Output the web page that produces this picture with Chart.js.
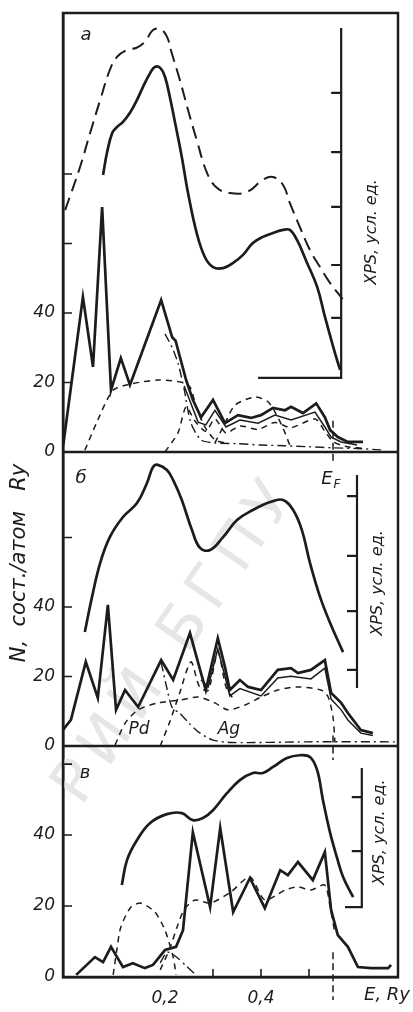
<!DOCTYPE html>
<html>
<head>
<meta charset="utf-8">
<script src="https://cdn.jsdelivr.net/npm/chart.js@4.4.1/dist/chart.umd.min.js"></script>
<style>
  html, body { margin: 0; padding: 0; background: #fff; }
  #plot { display: block; }
</style>
</head>
<body>
<canvas id="plot" width="413" height="1012"></canvas>
<script>
// energy axis, Ry
var xMin = -0.0125;
var xMax = 0.6854;
var xLabelled = [0.2, 0.4];
var xInnerTicks = [0.3, 0.4, 0.5];
var fermiE = 0.55;

// N, states/atom Ry  (panel а, б, в)
var aMax = 126.3, bMax = 84.6, cMax = 65.1;
var aTicks = [0, 20, 40, 60, 80];
var bTicks = [0, 20, 40, 60];
var cTicks = [0, 20, 40, 60];
var yLabelled = [0, 20, 40];

// ---- panel а ----
var aXpsDashE = [-0.008, 0.023, 0.044, 0.065, 0.085, 0.1, 0.121, 0.141, 0.158, 0.175, 0.19, 0.204, 0.214, 0.231, 0.248, 0.266, 0.2875, 0.308, 0.335, 0.371, 0.404, 0.425, 0.446, 0.46, 0.481, 0.502, 0.523, 0.544, 0.57];
var aXpsDashN = [69.6, 82, 91.8, 101.3, 109.9, 113.7, 115.7, 116.3, 118, 121.4, 121.7, 119.5, 114.8, 107, 98.4, 89.8, 80.3, 76, 74.5, 74.8, 78.3, 79.1, 76.8, 71.7, 64.7, 58.1, 53.2, 48.6, 44];
var aXpsE = [0.071, 0.079, 0.09, 0.1, 0.1125, 0.127, 0.1417, 0.154, 0.169, 0.179, 0.19, 0.2, 0.21, 0.221, 0.235, 0.248, 0.266, 0.283, 0.3, 0.321, 0.342, 0.3625, 0.383, 0.404, 0.425, 0.446, 0.46, 0.475, 0.496, 0.517, 0.533, 0.554, 0.565];
var aXpsN = [79.7, 86, 91.8, 93.5, 95, 97.6, 101.3, 105, 109, 110.8, 110.5, 107.9, 102.2, 94.7, 84.9, 74.5, 63, 56.1, 53.2, 52.9, 54.4, 56.7, 60.1, 61.9, 63, 63.9, 63.9, 61, 54.4, 47.5, 39, 28.5, 23.6];
var aTotE = [-0.012, 0.029, 0.05, 0.069, 0.0875, 0.108, 0.127, 0.192, 0.215, 0.222, 0.244, 0.258, 0.275, 0.3, 0.325, 0.352, 0.379, 0.4, 0.425, 0.45, 0.4625, 0.4875, 0.515, 0.533, 0.544, 0.56, 0.581, 0.6125];
var aTotN = [2, 44.6, 24.5, 70.5, 17.8, 27, 19.3, 43.7, 33, 32, 20.7, 15, 10, 15, 8.3, 10.6, 9.8, 10.6, 12.7, 12, 13, 11.2, 14, 10, 6.3, 4.3, 2.9, 2.9];
var aThinE = [0.24, 0.269, 0.285, 0.304, 0.327, 0.356, 0.394, 0.429, 0.4625, 0.5125, 0.533, 0.546, 0.567, 0.6];
var aThinN = [19, 8.6, 7.8, 12, 7.2, 9.2, 8.3, 10.6, 9.2, 11.5, 7.2, 4.3, 2.9, 2];
var aRiseE = [0.2, 0.227, 0.244, 0.262, 0.285, 0.304, 0.327, 0.356, 0.394, 0.429, 0.4625, 0.5125, 0.533, 0.55, 0.58, 0.62];
var aRiseN = [0, 5.5, 13, 9, 6, 9.5, 5.5, 7.5, 6.5, 8.5, 7, 9.5, 6, 3, 1.5, 1];
var aLowE = [0.033, 0.06, 0.092, 0.13, 0.185, 0.233, 0.252, 0.265, 0.283, 0.304, 0.325];
var aLowN = [0.5, 9.2, 17.8, 19.6, 20.7, 20.1, 18.7, 13, 7.2, 3.5, 2.6];
var aDotE = [0.2, 0.215, 0.227, 0.24, 0.254, 0.275, 0.304, 0.35, 0.4, 0.45, 0.5, 0.55, 0.6, 0.65];
var aDotN = [34, 30, 25.6, 18, 8.3, 3.5, 2.6, 2.4, 2, 1.8, 1.5, 1.2, 1, 0.6];
var aHumpE = [0.304, 0.325, 0.346, 0.3875, 0.415, 0.435, 0.45, 0.4625];
var aHumpN = [2.6, 8.3, 13.5, 15.8, 14.4, 10, 5.5, 1];

// ---- panel б ----
var bXpsE = [0.033, 0.048, 0.065, 0.085, 0.1125, 0.1417, 0.1625, 0.175, 0.185, 0.204, 0.217, 0.235, 0.256, 0.273, 0.294, 0.321, 0.35, 0.383, 0.419, 0.446, 0.467, 0.485, 0.502, 0.523, 0.544, 0.571];
var bXpsN = [32.8, 42.9, 52.7, 60.1, 65.9, 69.9, 75.7, 80.3, 80.9, 79.4, 76.5, 70.8, 62.2, 57, 56.4, 60.1, 65, 67.9, 70.2, 70.8, 67.9, 62.2, 52.7, 42.9, 35.4, 27];
var bTotE = [-0.0125, 0.004, 0.035, 0.06, 0.081, 0.098, 0.1167, 0.144, 0.192, 0.217, 0.252, 0.275, 0.285, 0.31, 0.325, 0.335, 0.356, 0.373, 0.4, 0.435, 0.4625, 0.477, 0.504, 0.533, 0.546, 0.567, 0.581, 0.608, 0.633];
var bTotN = [4.6, 7.5, 24.2, 13.8, 40.6, 10.4, 16.1, 11.2, 24.7, 19, 32.5, 21, 16.1, 31, 22.7, 16.1, 19, 17, 16.1, 21.9, 22.4, 21, 21.9, 24.7, 15.3, 12.4, 9.5, 4.6, 3.7];
var bThinE = [0.275, 0.29, 0.31, 0.325, 0.335, 0.356, 0.4, 0.435, 0.4625, 0.504, 0.533, 0.546, 0.567, 0.581, 0.608, 0.633];
var bThinN = [19, 17, 28, 20, 14.4, 16.5, 14.4, 19.6, 20.1, 19.3, 22.4, 13.5, 10.4, 7.5, 3.7, 3];
var bPdE = [0.096, 0.117, 0.144, 0.185, 0.231, 0.269, 0.304, 0.331, 0.367, 0.4, 0.435, 0.477, 0.525, 0.54, 0.55, 0.554];
var bPdN = [0.3, 6.6, 10.4, 12.4, 13.2, 14.1, 12.4, 10.4, 11.8, 14.1, 16.1, 17, 16.1, 14.1, 8.3, 1];
var bRiseE = [0.19, 0.21, 0.23, 0.254, 0.272, 0.29, 0.31, 0.327, 0.34];
var bRiseN = [0, 7, 15, 24.2, 17, 16, 27, 17, 14];
var bAgE = [0.192, 0.205, 0.215, 0.23, 0.25, 0.27, 0.3, 0.34, 0.5, 0.68];
var bAgN = [24, 16, 11, 9.5, 6.6, 4, 1.7, 1, 1.2, 1.2];

// ---- panel в ----
var cXpsE = [0.11, 0.121, 0.1417, 0.169, 0.204, 0.235, 0.258, 0.279, 0.3, 0.329, 0.356, 0.383, 0.404, 0.425, 0.454, 0.481, 0.502, 0.517, 0.529, 0.544, 0.558, 0.571, 0.592];
var cXpsN = [25.9, 33, 38.6, 43.4, 45.9, 46.2, 44.2, 44.8, 47, 51.8, 55.5, 57.5, 57.5, 59.2, 61.7, 62.5, 62, 58.3, 49.9, 40.6, 33.8, 28.2, 22.5];
var cTotE = [0.015, 0.054, 0.071, 0.0875, 0.1125, 0.133, 0.158, 0.175, 0.2, 0.223, 0.2375, 0.258, 0.294, 0.315, 0.342, 0.377, 0.408, 0.44, 0.456, 0.477, 0.508, 0.533, 0.546, 0.56, 0.581, 0.602, 0.629, 0.665, 0.671];
var cTotN = [0.6, 5.6, 4.2, 8.5, 2.8, 3.9, 2.5, 3.4, 7.6, 8.5, 13.2, 40.8, 19.7, 42, 18.3, 27.9, 19.4, 30.1, 28.7, 32.4, 27.3, 35.2, 18.9, 11.8, 8.5, 2.8, 2.5, 2.5, 3.4];
var cPdE = [0.092, 0.1, 0.108, 0.129, 0.15, 0.179, 0.2, 0.217, 0.223];
var cPdN = [0.6, 8, 14.1, 19.7, 20.8, 18.3, 13.2, 5.6, 0.6];
var cRiseE = [0.19, 0.21, 0.225, 0.24, 0.2625, 0.294, 0.3375, 0.377, 0.408, 0.45, 0.477, 0.504, 0.533, 0.544, 0.554];
var cRiseN = [2, 8, 14, 19, 21.7, 20.8, 24, 28.2, 21.7, 24.5, 25.4, 24.5, 25.9, 19.7, 12.4];
var cAgE = [0.19, 0.205, 0.225, 0.245, 0.265];
var cAgN = [4, 7, 5.5, 3, 0.5];

// XPS scale brackets drawn inside each panel (energy of bar, bottom, top, ticks, foot start)
var xpsBarE = [0.567, 0.6, 0.61];
var xpsLow = [21.3, 16.7, 19.7];
var xpsHigh = [122, 78, 58.9];
var xpsTicks = [[38.6, 53.8, 70.5, 86.3, 103.3], [21.9, 38.8, 54.7, 71.9], [35.5, 50.7]];
var xpsFootE = [0.394, null, 0.575];

var ink = '#1c1c1c';
var family = '"DejaVu Sans", sans-serif';
var tickFont = { family: family, size: 17, style: 'italic' };

function pts(xs, ys) {
    return xs.map(function (x, i) { return { x: x, y: ys[i] }; });
}

// kinds of stroke used in the figure
var styles = {
    xps: { w: 2.7, dash: [], t: 0.4 },
    xpsDash: { w: 2, dash: [13, 7], t: 0.4 },
    total: { w: 2.7, dash: [], t: 0 },
    thin: { w: 1.5, dash: [], t: 0 },
    partial: { w: 1.5, dash: [6, 5], t: 0.25 },
    dashDot: { w: 1.4, dash: [9, 4, 2, 4], t: 0.25 }
};

function curve(xs, ys, axis, kind) {
    var s = styles[kind];
    return {
        data: pts(xs, ys),
        yAxisID: axis,
        borderColor: ink,
        borderWidth: s.w,
        borderDash: s.dash,
        tension: s.t,
        pointRadius: 0,
        fill: false
    };
}

var datasets = [
    curve(aXpsDashE, aXpsDashN, 'ya', 'xpsDash'),
    curve(aXpsE, aXpsN, 'ya', 'xps'),
    curve(aTotE, aTotN, 'ya', 'total'),
    curve(aThinE, aThinN, 'ya', 'thin'),
    curve(aRiseE, aRiseN, 'ya', 'partial'),
    curve(aLowE, aLowN, 'ya', 'partial'),
    curve(aDotE, aDotN, 'ya', 'dashDot'),
    curve(aHumpE, aHumpN, 'ya', 'partial'),

    curve(bXpsE, bXpsN, 'yb', 'xps'),
    curve(bTotE, bTotN, 'yb', 'total'),
    curve(bThinE, bThinN, 'yb', 'thin'),
    curve(bPdE, bPdN, 'yb', 'partial'),
    curve(bRiseE, bRiseN, 'yb', 'partial'),
    curve(bAgE, bAgN, 'yb', 'dashDot'),

    curve(cXpsE, cXpsN, 'yc', 'xps'),
    curve(cTotE, cTotN, 'yc', 'total'),
    curve(cPdE, cPdN, 'yc', 'partial'),
    curve(cRiseE, cRiseN, 'yc', 'partial'),
    curve(cAgE, cAgN, 'yc', 'dashDot')
];

function yAxis(max, weight, tickVals) {
    return {
        type: 'linear',
        position: 'left',
        stack: 'dos',
        stackWeight: weight,
        min: 0,
        max: max,
        grid: { display: false },
        border: { display: true, color: ink, width: 2.5 },
        afterBuildTicks: function (s) {
            s.ticks = tickVals.map(function (v) { return { value: v }; });
        },
        afterFit: function (s) { s.width = 63; },
        ticks: {
            padding: 0,
            color: ink,
            font: tickFont,
            callback: function (v) { return yLabelled.indexOf(v) >= 0 ? String(v) : ''; }
        }
    };
}

function italic(ctx, size) {
    ctx.font = 'italic ' + size + 'px ' + family;
}

function rotatedText(ctx, text, x, y, size) {
    ctx.save();
    ctx.translate(x, y);
    ctx.rotate(-Math.PI / 2);
    italic(ctx, size);
    ctx.textAlign = 'center';
    ctx.textBaseline = 'middle';
    ctx.fillText(text, 0, 0);
    ctx.restore();
}

var decor = {
    id: 'decor',
    beforeDatasetsDraw: function (chart) {
        // faint library stamp across the middle
        var ctx = chart.ctx;
        ctx.save();
        ctx.translate(178, 640);
        ctx.rotate(-0.965);
        ctx.font = '60px ' + family;
        ctx.fillStyle = '#e6e6e6';
        ctx.textAlign = 'center';
        ctx.textBaseline = 'middle';
        ctx.letterSpacing = '10px';
        ctx.fillText('РИЙ БГПУ', 0, 0);
        ctx.restore();
    },
    afterDatasetsDraw: function (chart) {
        var ctx = chart.ctx;
        var area = chart.chartArea;
        var x = chart.scales.x;
        var panels = [chart.scales.ya, chart.scales.yb, chart.scales.yc];
        var inner = [aTicks, bTicks, cTicks];

        ctx.save();
        ctx.strokeStyle = ink;
        ctx.fillStyle = ink;
        ctx.setLineDash([]);

        // frame and panel separators
        ctx.lineWidth = 2.5;
        ctx.strokeRect(area.left, area.top, area.right - area.left, area.bottom - area.top);
        ctx.beginPath();
        ctx.moveTo(area.left, panels[0].bottom);
        ctx.lineTo(area.right, panels[0].bottom);
        ctx.moveTo(area.left, panels[1].bottom);
        ctx.lineTo(area.right, panels[1].bottom);
        ctx.stroke();

        // inward ticks on the N axes and on the energy axis
        ctx.lineWidth = 1.6;
        ctx.beginPath();
        panels.forEach(function (s, i) {
            inner[i].forEach(function (v) {
                if (v === 0) return;
                var py = s.getPixelForValue(v);
                ctx.moveTo(area.left, py);
                ctx.lineTo(area.left + 9, py);
            });
        });
        xInnerTicks.forEach(function (e) {
            var px = x.getPixelForValue(e);
            ctx.moveTo(px, area.bottom);
            ctx.lineTo(px, area.bottom - 8);
        });
        ctx.stroke();

        // Fermi level marks
        var fx = x.getPixelForValue(fermiE);
        var fermiSpan = [[9, -3.7], [3, -4], [7, -6.5]];
        ctx.lineWidth = 1.5;
        ctx.setLineDash([7, 4]);
        ctx.beginPath();
        panels.forEach(function (s, i) {
            ctx.moveTo(fx, s.getPixelForValue(fermiSpan[i][0]));
            ctx.lineTo(fx, s.getPixelForValue(fermiSpan[i][1]));
        });
        ctx.stroke();
        ctx.setLineDash([]);

        // XPS intensity brackets
        ctx.lineWidth = 2.2;
        panels.forEach(function (s, i) {
            var bx = x.getPixelForValue(xpsBarE[i]);
            var lo = s.getPixelForValue(xpsLow[i]);
            ctx.beginPath();
            ctx.moveTo(bx, s.getPixelForValue(xpsHigh[i]));
            ctx.lineTo(bx, lo);
            if (xpsFootE[i] !== null) {
                ctx.lineTo(x.getPixelForValue(xpsFootE[i]), lo);
            }
            xpsTicks[i].forEach(function (v) {
                var ty = s.getPixelForValue(v);
                ctx.moveTo(bx, ty);
                ctx.lineTo(bx - 10, ty);
            });
            ctx.stroke();
        });

        // texts
        var xpsLabelE = [0.631, 0.644, 0.648];
        var xpsLabelN = [63.3, 46.9, 40.8];
        panels.forEach(function (s, i) {
            rotatedText(ctx, 'XPS, усл. ед.', x.getPixelForValue(xpsLabelE[i]), s.getPixelForValue(xpsLabelN[i]), 16);
        });

        italic(ctx, 18);
        ctx.textAlign = 'center';
        ctx.textBaseline = 'middle';
        ctx.fillText('а', area.left + 23, panels[0].top + 22);
        ctx.fillText('б', area.left + 18, panels[1].top + 26);
        ctx.fillText('в', area.left + 22, panels[2].top + 27);

        italic(ctx, 17);
        ctx.fillText('Pd', x.getPixelForValue(0.146), panels[1].getPixelForValue(4.6));
        ctx.fillText('Ag', x.getPixelForValue(0.333), panels[1].getPixelForValue(4.6));

        italic(ctx, 18);
        ctx.fillText('E', fx - 6, panels[1].top + 27);
        italic(ctx, 12);
        ctx.fillText('F', fx + 4, panels[1].top + 33);

        italic(ctx, 18);
        ctx.textAlign = 'right';
        ctx.fillText('E, Ry', 410, area.bottom + 18);

        rotatedText(ctx, 'N,  сост./атом   Ry', 20, 563, 21);
        ctx.restore();
    }
};

new Chart(document.getElementById('plot'), {
    type: 'line',
    data: { datasets: datasets },
    options: {
        responsive: false,
        animation: false,
        layout: { padding: { top: 13, right: 15, left: 0, bottom: 0 } },
        plugins: { legend: { display: false }, tooltip: { enabled: false } },
        scales: {
            x: {
                type: 'linear',
                min: xMin,
                max: xMax,
                grid: { display: false },
                border: { display: true, color: ink, width: 2.5 },
                afterBuildTicks: function (s) {
                    s.ticks = xLabelled.map(function (v) { return { value: v }; });
                },
                afterFit: function (s) { s.height = 35; },
                ticks: {
                    padding: 3,
                    color: ink,
                    font: tickFont,
                    maxRotation: 0,
                    callback: function (v) { return String(v).replace('.', ','); }
                }
            },
            // stacked left axes are placed top-down in reverse order of definition
            yc: yAxis(cMax, 231, cTicks),
            yb: yAxis(bMax, 294, bTicks),
            ya: yAxis(aMax, 439, aTicks)
        }
    },
    plugins: [decor]
});
</script>
</body>
</html>
